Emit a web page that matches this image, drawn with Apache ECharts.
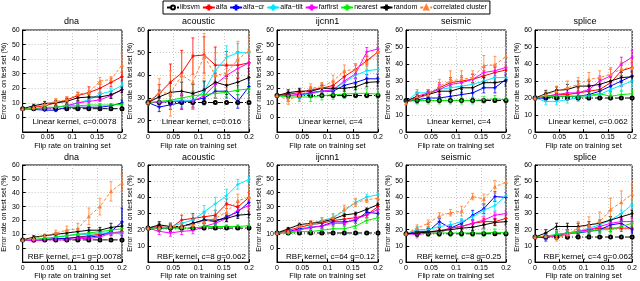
<!DOCTYPE html>
<html><head><meta charset="utf-8">
<script src="https://cdn.jsdelivr.net/npm/echarts@6/dist/echarts.min.js"></script>
<style>html,body{margin:0;padding:0;background:#fff}#c{width:640px;height:281px}</style>
</head><body><div id="c"></div>
<script>
// ---- data ----
const seriesNames = ['libsvm','alfa','alfa\u2212cr','alfa\u2212tilt','farfirst','nearest','random','correlated cluster'];
const flipRates = [0,0.0222,0.0444,0.0667,0.0889,0.1111,0.1333,0.1556,0.1778,0.2];
const panelTitles = ['dna','acoustic','ijcnn1','seismic','splice','dna','acoustic','ijcnn1','seismic','splice'];
const kernelLabels = ['Linear kernel, c=0.0078','Linear kernel, c=0.016','Linear kernel, c=4','Linear kernel, c=4','Linear kernel, c=0.062',
  'RBF kernel, c=1 g=0.0078','RBF kernel, c=8 g=0.062','RBF kernel, c=64 g=0.12','RBF kernel, c=8 g=0.25','RBF kernel, c=4 g=0.062'];
const yMins = [-10,15,-10,0,0,-10,0,-10,0,0];
const yTicksFull = [0,10,20,30,40,50,60];
const yTicksAcousticLin = [20,30,40,50,60];
const yTicksAcousticRbf = [10,20,30,40,50,60];
const xTicks = [0,0.05,0.1,0.15,0.2];

// order: libsvm, alfa, alfa-cr, alfa-tilt, farfirst, nearest, random, correlated cluster
const dnaLin = [
 [6,6,6,6,6,6,6,6,6,6],
 [6,7,8,10,12,15,17,20,24,28],
 [6,5.5,5,5,7,7,7,7,8,10],
 [6,6,6,7,8,10,12,16,18,22],
 [6,6,6,7,8,10,11,12,15,19],
 [6,6,7,7,8,8,8.5,8.5,8.5,9],
 [6,8,9.5,10,11,13.5,14,14,15.5,19],
 [6,7,9,11,12,16,17,25,26,36]];
const dnaLinErr = [
 [0.5,0.5,0.5,0.5,0.5,0.5,0.5,0.5,0.5,0.5],
 [0.5,1,1.5,2,2,2,4,3,3,3],
 [0.5,0.5,0.5,1,1,1,1,1,1,2],
 [0.5,0.5,0.5,1,1,1,1.5,2,2,2],
 [0.5,0.5,0.5,1,1,1,1,1,1.5,1.5],
 [0.5,0.5,0.5,0.5,1,1,1,1,1,1],
 [0.5,1,1.5,1.5,2,2,2,2,2.5,2],
 [0.5,1,1,2,2,1.5,1.5,2.5,2,8]];
const acousticLin = [
 [28,28,28,28,28,28,28,28,28,28],
 [28,32,37,41,48.5,49,44.5,44.5,44.5,45.5],
 [28,26,27,28,29,30,33,33,28.5,35],
 [28,28,28.5,29,29,33,42,48,50,50],
 [28,28,28.5,28.5,28.5,31,36,40,43,45.5],
 [28,28.5,29,30,31,31.5,32,32.5,33.5,34],
 [28,30.5,32.5,33,32,33.5,37,35.5,37,39],
 [28,32.5,32,40,37,48.5,40,41,47,51]];
const acousticLinErr = [
 [0.5,0.5,0.5,0.5,0.5,0.5,0.5,0.5,0.5,0.5],
 [1,4,8,10,8,8,8,6,6,6],
 [1,2,2,3,3,3,3,3,3,3],
 [1,2,3,3,4,4,5,5,4,4],
 [1,2,2,3,3,3,4,4,4,4],
 [1,2,2,2,2,2,2,2,2,2],
 [1,3,4,4,4,4,4,4,4,4],
 [1,6,10,10,12,10,10,8,8,6]];
const ijcnnLin = [
 [15,15,15,15,15,15,15,15,15,15],
 [15,16,17,19,20,22,28,33,39,45],
 [15,15,15,17,18,18,22,24,26.5,26.5],
 [15,15,15,16,18,19,24,29,32,33],
 [15,15,16,17,18,19,25,30,45,47],
 [15,14,14,14,15,15.5,16,16.5,16.5,16],
 [15,17,18,18,20,20,20,21,24,24.5],
 [15,12,15,20,21,25,32,33,38,45]];
const ijcnnLinErr = [
 [0.5,0.5,0.5,0.5,0.5,0.5,0.5,0.5,0.5,0.5],
 [1,2,2,2,3,3,3,3,3,3],
 [1,2,2,2,2,2,2,3,3,3],
 [1,2,2,2,2,2,3,3,3,3],
 [1,2,2,2,2,2,3,3,3,3],
 [1,3,3,3,3,3,3,3,3,3],
 [1,2,2,2,2,2,2,2,3,3],
 [1,3,3,3,3,4,4,4,5,5]];
const seismicLin = [
 [18.5,18.5,18.5,18.5,18.5,18.5,18.5,18.5,18.5,18.5],
 [18,20,22,26,29,30,31,33,35,36.5],
 [18,19,20,20,21,22,23,26,26,31],
 [18,23,23,25,26,27,28,30,32,32],
 [18,21,23,25,28,29,31,35,36,38],
 [18,18.5,18.5,18.5,18.5,18.5,18.5,19,19.5,19],
 [18,21,22,24,24,26,26,29,29,30],
 [17,21,22,27,30,31,32,39,39.5,44.5]];
const seismicLinErr = [
 [0.5,0.5,0.5,0.5,0.5,0.5,0.5,0.5,0.5,0.5],
 [1,2,2,3,3,3,3,3,3,3],
 [1,2,2,2,2,3,3,3,3,3],
 [1,2,2,3,3,3,3,3,3,3],
 [1,2,2,3,3,3,3,3,3,3],
 [1,2,2,2,2,2,2,2,2,2],
 [1,2,2,3,3,3,3,3,3,3],
 [1,3,3,4,6,5,4,6,5,6]];
const spliceLin = [
 [20,20,20,20,20,20,20,20,20,20],
 [20,21,22,22,23,24,25,29,36,38],
 [20,20,21,21,21,22,24,27,30,33],
 [20,18,18,19,20,21,22,25,27.5,30],
 [20,21,22,23,23,25,30,33,40,44],
 [20,21,21,21,21,21.5,22.5,21,22,22.5],
 [20,22.5,24.5,25,27,27,28,30,32,32.5],
 [20,22,24,26,28,31,32,34,37,38]];
const spliceLinErr = [
 [0.5,0.5,0.5,0.5,0.5,0.5,0.5,0.5,0.5,0.5],
 [1,2,3,3,3,3,3,3,3,3],
 [1,2,2,2,2,3,3,3,3,3],
 [1,2,2,2,2,2,3,3,3,3],
 [1,2,3,3,3,3,3,4,4,4],
 [1,2,2,2,2,2,2,2,2,2],
 [1,2,2,3,3,3,3,3,3,3],
 [1,2,3,4,4,4,4,4,4,4]];
const dnaRbf = [
 [6,6,6,6,6,6,6,6,6,6],
 [6,6,6,7,7,8,9,10,11,12],
 [6,6,6,7,7,8,8,9,12,19],
 [6,6,7,8,9,10,10,11,11,11],
 [6,5.5,6,6,6,7,7,8,11,11],
 [6,6.5,7,8,9,10,11,12,13,14],
 [6,8,9,10,11,12,13,13,15,16],
 [6,7,9,11,13,14,23,30,41,47]];
const dnaRbfErr = [
 [0.5,0.5,0.5,0.5,0.5,0.5,0.5,0.5,0.5,0.5],
 [0.5,1,1,1,1,1,1,1,2,2],
 [0.5,1,1,1,1,1,1,1,2,10],
 [0.5,1,1,1,1,1,1,1,1,1],
 [0.5,1,1,1,1,1,1,1,2,2],
 [0.5,1,1,1,1,1,1,1,1,1],
 [0.5,1,1,1,2,2,2,2,3,3],
 [0.5,1,1,2,3,4,6,6,7,6]];
const acousticRbf = [
 [21,21,21,21,21,21,21,21,21,21],
 [21,22,21,26,27,28,29,36,34,40],
 [21,21,21,22,24,26,25,28,31,37],
 [21,21,22,24,26,31,36,41,48,51],
 [21,19,18,19,19.5,22,24,27,32,35],
 [21,21,21,21,21,22,22,22,22,22.5],
 [21,23,22,22,24,26,26,27,29,29.5],
 [21,21,22,22,23,25,27,31,38,40]];
const acousticRbfErr = [
 [0.5,0.5,0.5,0.5,0.5,0.5,0.5,0.5,0.5,0.5],
 [1,2,2,3,3,3,3,3,3,3],
 [1,2,2,2,2,2,2,2,3,3],
 [1,2,2,2,3,4,4,4,3,2],
 [1,2,2,2,2,2,2,2,3,3],
 [1,1,1,1,1,1,1,1,1,1],
 [1,2,2,2,2,2,2,2,2,2],
 [1,2,2,2,3,3,3,4,4,7]];
const ijcnnRbf = [
 [11,11,11,11,11,11,11,11,11,11],
 [11,13,15,17,18,20,21,22,24,30],
 [11,12,14,15,16,19,19,20,26,25],
 [11,11,13,16,20,22,27,33,37,38.5],
 [11,12,13,15,16,18,18,21,24,28],
 [11,11,12,12,13,14,14,16,20,22],
 [11,14,17,18,19,21,24,25,28,31.5],
 [11,12,16,18,20,22,28,33,35,36]];
const ijcnnRbfErr = [
 [0.5,0.5,0.5,0.5,0.5,0.5,0.5,0.5,0.5,0.5],
 [1,1,2,2,2,2,2,2,2,2],
 [1,1,2,2,2,2,2,2,2,2],
 [1,1,2,2,2,2,2,2,2,2],
 [1,1,2,2,2,2,2,2,2,2],
 [1,1,2,2,2,2,2,2,2,2],
 [1,1,1,1,1,1,1,1,1,1],
 [1,2,2,2,2,3,3,3,2,2]];
const seismicRbf = [
 [17.5,17.5,17.5,17.5,17.5,17.5,17.5,17.5,17.5,17.5],
 [17.5,18,19,19,21,22,24,25,25,27],
 [17.5,19,19,25,21,24,29,33,40.5,40],
 [17.5,20,20,22,23,25,28,32,35,41],
 [17.5,17,18,18,21,22,24,26,29,30],
 [17.5,18,18,18,18,18,18,18,18.5,18],
 [17.5,18,18.5,19.5,20,21,21.5,23,24.5,25],
 [17.5,21,24,28.5,30.5,31.5,40.5,39,46.5,49.5]];
const seismicRbfErr = [
 [0.5,0.5,0.5,0.5,0.5,0.5,0.5,0.5,0.5,0.5],
 [1,2,2,2,2,2,2,2,2,2],
 [1,2,2,2,2,2,3,3,3,3],
 [1,2,2,2,2,2,3,3,3,4],
 [1,2,2,2,2,2,2,2,2,2],
 [1,2,2,2,2,2,2,2,2,2],
 [1,2,2,2,2,2,2,2,2,2],
 [1,2,2,2,2,3,2,3,4,3]];
const spliceRbf = [
 [15.5,15.5,15.5,15.5,15.5,15.5,15.5,15.5,15.5,15.5],
 [15.5,16,16,18,19,20,21,21,21,21],
 [15.5,15,17,18,18,19,20,23,24,20],
 [15.5,16,17,18,19,21,23,26,30,35.5],
 [15.5,16,16,17,19,20,22,24,25,25],
 [15.5,16,17,18,18.5,19,20,20,22,24],
 [15.5,18,22,22,22,23,24,26,28,30],
 [15.5,16,15,17,21,23,25,32.5,37,42]];
const spliceRbfErr = [
 [0.5,0.5,0.5,0.5,0.5,0.5,0.5,0.5,0.5,0.5],
 [1,2,2,2,2,2,2,2,2,2],
 [1,2,2,2,2,2,2,2,2,2],
 [1,2,2,2,2,2,2,2,2,3],
 [1,2,2,2,2,2,2,2,2,2],
 [1,2,2,2,2,2,2,2,2,2],
 [1,2,2,2,2,2,2,2,2,2],
 [1,2,2,3,4,5,6,7,7,6]];

const panelData = [dnaLin,acousticLin,ijcnnLin,seismicLin,spliceLin,dnaRbf,acousticRbf,ijcnnRbf,seismicRbf,spliceRbf];
const panelErr = [dnaLinErr,acousticLinErr,ijcnnLinErr,seismicLinErr,spliceLinErr,dnaRbfErr,acousticRbfErr,ijcnnRbfErr,seismicRbfErr,spliceRbfErr];
const panelYTicks = [yTicksFull,yTicksAcousticLin,yTicksFull,yTicksFull,yTicksFull,yTicksFull,yTicksAcousticRbf,yTicksFull,yTicksFull,yTicksFull];

// ---- styles ----
const colors = ['#000000','#ff0000','#0000ff','#00e8ff','#ff00ff','#00ee00','#000000','#ff8030'];
const plus = 'path://M2,0H3V2H5V3H3V5H2V3H0V2H2Z';
const symbols = ['emptyCircle',plus,plus,plus,plus,plus,plus,'triangle'];
const symbolSizes = [3,3,3,3,3,3,3,3.5];
const dashes = [[5,2,1,2],'solid','solid','solid','solid','solid','solid',[3,2]];
const gridLefts = [21,148,277,406,535];
const gridWidths = [101,101,101,100,100];
const rowTops = [30,165];
const rowHeights = [102,101];
const FONT = 'Liberation Sans, Arial, Helvetica, sans-serif';

const grids=[], xAxes=[], yAxes=[], series=[], titles=[];
for (let p=0;p<10;p++){
  const r = Math.floor(p/5), c = p%5;
  grids.push({left:gridLefts[c], top:rowTops[r], width:gridWidths[c], height:rowHeights[r],
    show:true, borderColor:'#000', borderWidth:1, backgroundColor:'#fff'});
  xAxes.push({type:'value', gridIndex:p, min:0, max:0.2,
    axisLine:{onZero:false, lineStyle:{color:'#000',width:1}},
    axisTick:{inside:true, length:3, lineStyle:{color:'#000'}, customValues:xTicks},
    axisLabel:{fontSize:7, color:'#000', margin:2, fontFamily:FONT, customValues:xTicks, formatter:v=>String(+(+v).toFixed(2))},
    splitLine:{show:true, lineStyle:{color:'#c8c8c8', type:[1,2], width:1}},
    name:'Flip rate on training set', nameLocation:'middle', nameGap:7,
    nameTextStyle:{fontSize:7.5, color:'#000', fontFamily:FONT}});
  yAxes.push({type:'value', gridIndex:p, min:yMins[p], max:60,
    axisLine:{onZero:false, lineStyle:{color:'#000',width:1}},
    axisTick:{inside:true, length:3, lineStyle:{color:'#000'}, customValues:panelYTicks[p]},
    axisLabel:{fontSize:7, color:'#000', margin:3, fontFamily:FONT, customValues:panelYTicks[p]},
    splitLine:{show:true, lineStyle:{color:'#c8c8c8', type:[1,2], width:1}},
    name:'Error rate on test set (%)', nameLocation:'middle', nameGap:11,
    nameTextStyle:{fontSize:7, color:'#000', fontFamily:FONT}});
  const cx = gridLefts[c] + gridWidths[c]/2;
  titles.push({text:panelTitles[p], left:cx, top:r===0?17:153, textAlign:'center', padding:0,
    textStyle:{fontSize:9, fontWeight:'normal', color:'#000', fontFamily:FONT}});
  titles.push({text:kernelLabels[p], left:cx+3, top:r===0?118:253, textAlign:'center', padding:0,
    textStyle:{fontSize:8, fontWeight:'normal', color:'#000', fontFamily:FONT}});
  const ys = panelData[p], es = panelErr[p];
  for (let s=0;s<8;s++){
    const col = colors[s];
    series.push({type:'custom', xAxisIndex:p, yAxisIndex:p, silent:true, clip:true, z:2,
      data: flipRates.map((x,i)=>[x, ys[s][i]-es[s][i], ys[s][i]+es[s][i]]),
      renderItem:(params, api)=>{
        const lo = api.coord([api.value(0), api.value(1)]);
        const hi = api.coord([api.value(0), api.value(2)]);
        const w = 1.5, st = {stroke:col, lineWidth:0.8};
        return {type:'group', children:[
          {type:'line', shape:{x1:lo[0],y1:lo[1],x2:hi[0],y2:hi[1]}, style:st},
          {type:'line', shape:{x1:lo[0]-w,y1:lo[1],x2:lo[0]+w,y2:lo[1]}, style:st},
          {type:'line', shape:{x1:hi[0]-w,y1:hi[1],x2:hi[0]+w,y2:hi[1]}, style:st}]};
      }});
    series.push({type:'line', name:seriesNames[s], xAxisIndex:p, yAxisIndex:p, z:3,
      data: flipRates.map((x,i)=>[x, ys[s][i]]),
      symbol:symbols[s], symbolSize:symbolSizes[s], showSymbol:true, animation:false,
      itemStyle:{color:col, borderColor:col, borderWidth: s===0?0.8:0.3},
      lineStyle:{color:col, width:1, type:dashes[s]}});
  }
}

const chart = echarts.init(document.getElementById('c'), null, {renderer:'canvas'});
chart.setOption({
  animation:false,
  backgroundColor:'#fff',
  title: titles,
  legend:{data:seriesNames, left:163, top:1, orient:'horizontal', itemWidth:12, itemHeight:5, itemGap:2,
    padding:[3,3,3,3], borderColor:'#000', borderWidth:1, backgroundColor:'#fff',
    textStyle:{fontSize:7, color:'#000', fontFamily:FONT, padding:[0,0,0,-4]}},
  grid: grids, xAxis: xAxes, yAxis: yAxes, series: series
});
</script></body></html>
